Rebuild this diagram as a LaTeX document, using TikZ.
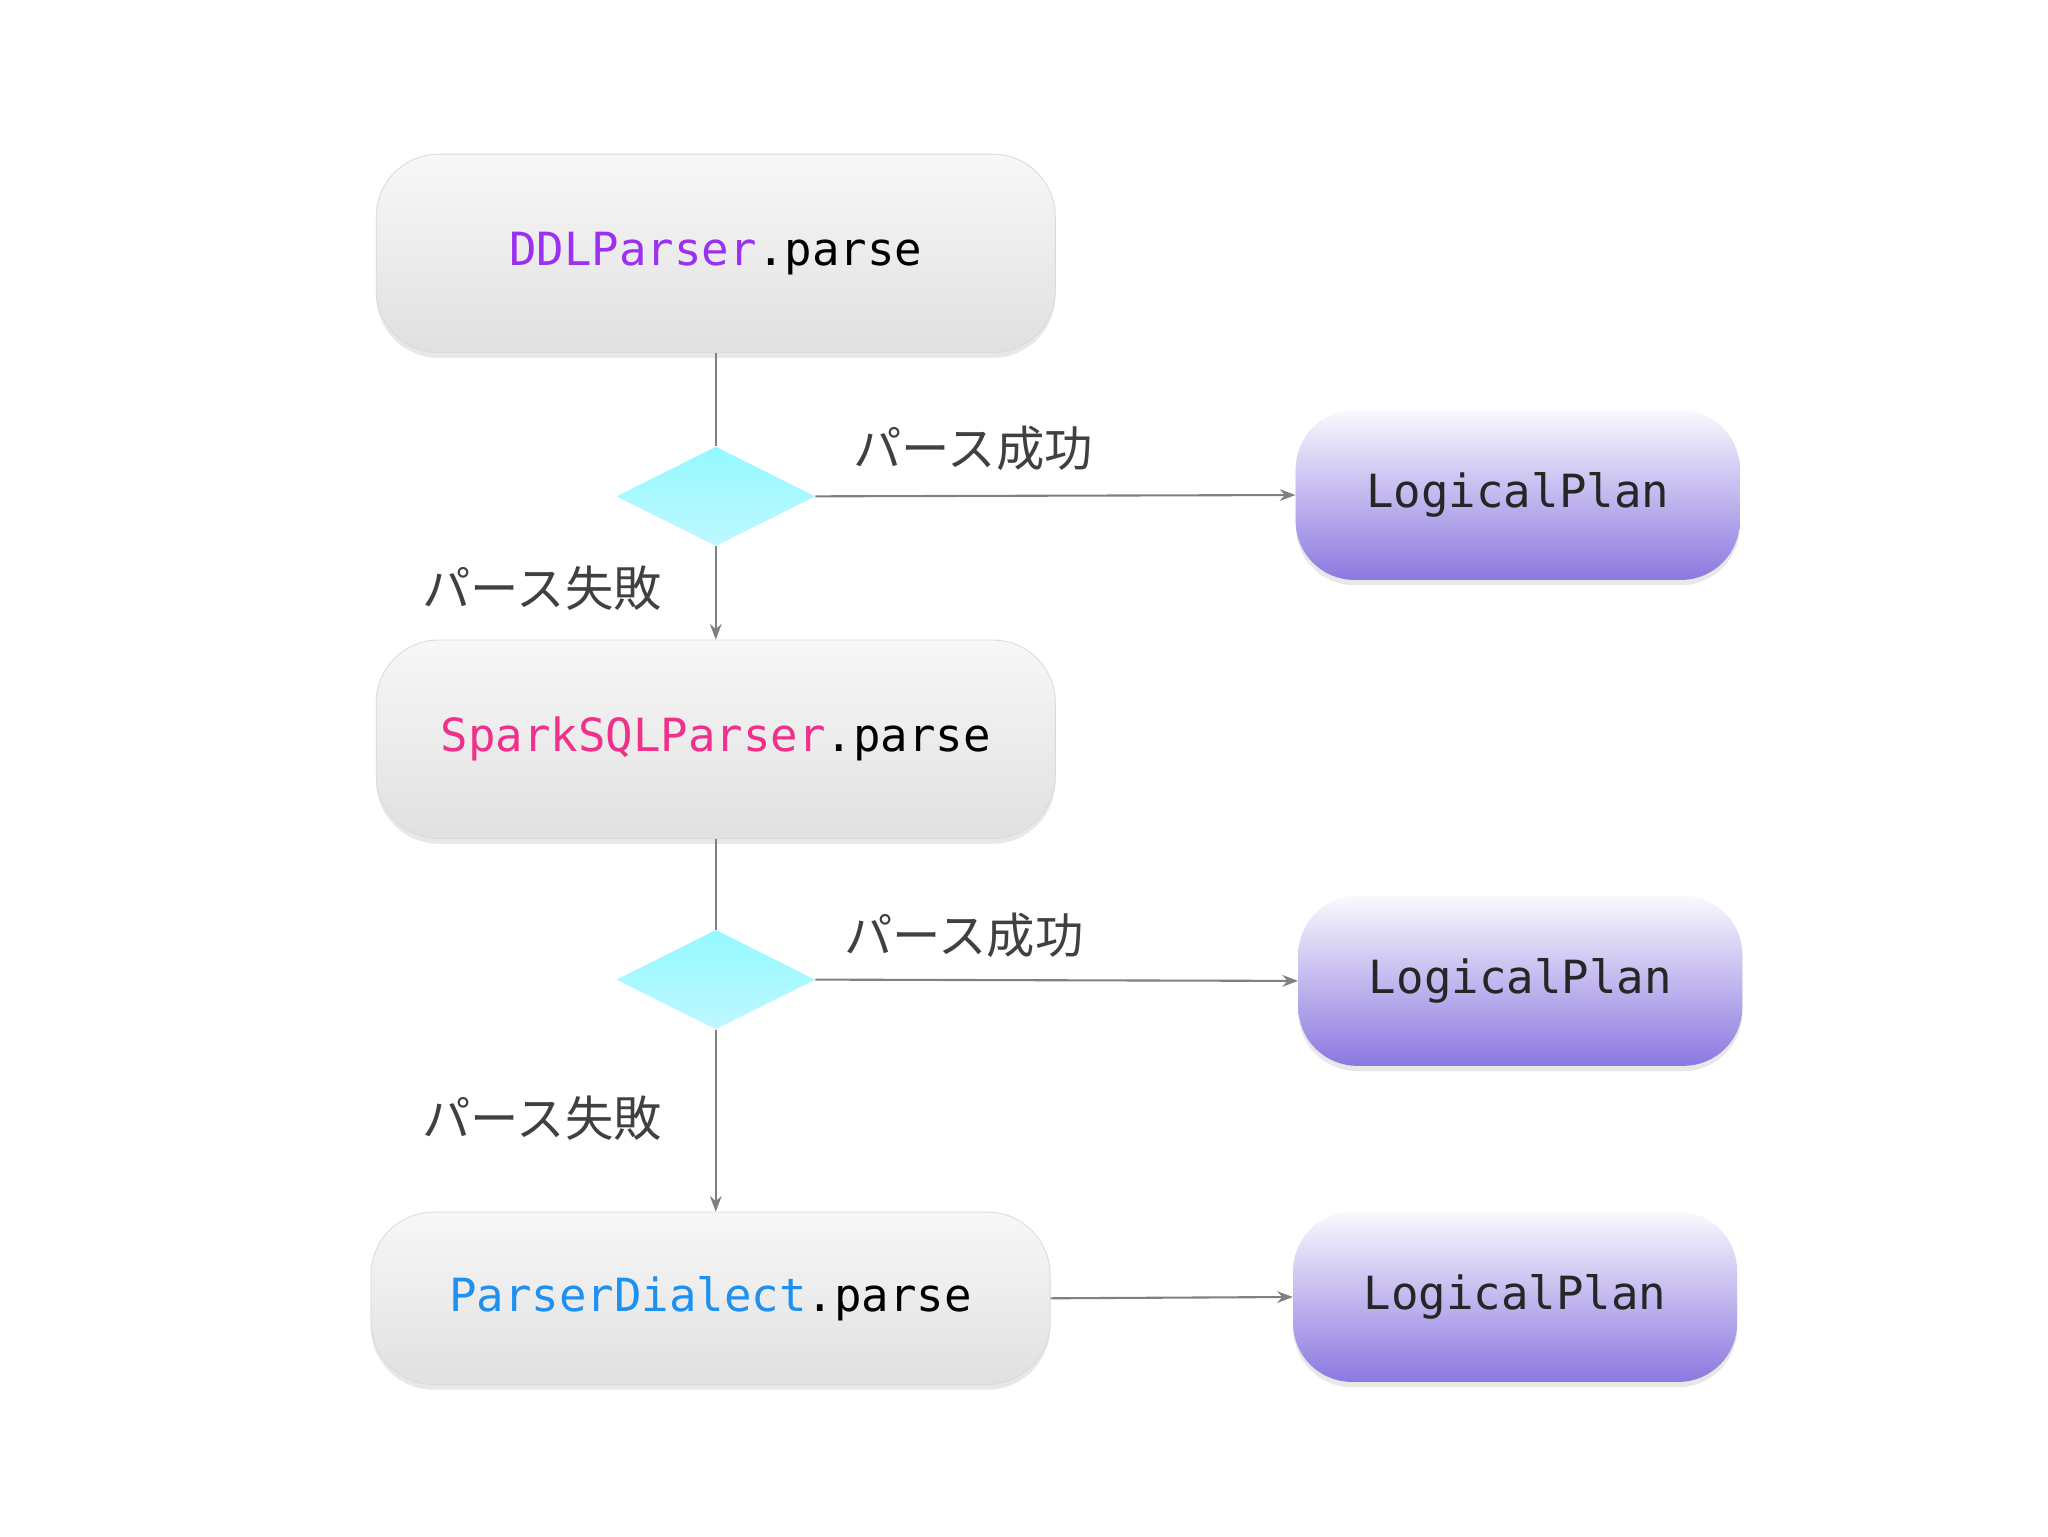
\documentclass[tikz,border=0pt]{standalone}
\usepackage{fontspec}
\setmonofont{DejaVu Sans Mono}
\newfontfamily\cjk{Noto Sans CJK JP}
\usetikzlibrary{shapes.geometric,shadows,arrows.meta}
\definecolor{lineg}{HTML}{808080}
\definecolor{cddl}{HTML}{9B30F0}
\definecolor{cspark}{HTML}{F0308A}
\definecolor{cdial}{HTML}{1E90F0}
\definecolor{lpb}{HTML}{8C78E0}
\tikzset{
 pbox/.style={rectangle,rounded corners=48pt,minimum width=520pt,minimum height=152pt,
   top color=white!97!black,bottom color=white!88!black,draw=white!85!black,line width=0.6pt,
   drop shadow={opacity=0.18,shadow xshift=0pt,shadow yshift=-4pt},
   font=\ttfamily\fontsize{35}{40}\selectfont},
 lp/.style={rectangle,rounded corners=45pt,minimum width=340pt,minimum height=130pt,
   top color=white!95!lpb,bottom color=lpb,draw=none,
   drop shadow={opacity=0.18,shadow xshift=0pt,shadow yshift=-4pt},
   font=\ttfamily\fontsize{35}{40}\selectfont, text=black!85},
 dia/.style={diamond,minimum width=152pt,minimum height=76pt,inner sep=0pt,aspect=2,
   top color=white!96!blue!60!cyan,bottom color=blue!12!cyan!25!white,draw=none},
 conn/.style={draw=lineg,line width=1.6pt},
 arr/.style={conn,-{Stealth[length=12pt,width=9pt]}},
 lab/.style={font=\cjk\fontsize{37}{40}\selectfont,text=black!75}
}
\begin{document}
\begin{tikzpicture}[x=1pt,y=-1pt]
\useasboundingbox (0,0) rectangle (1568,1176);
\fill[white] (0,0) rectangle (1568,1176);
\node[pbox] (b1) at (548,194) {\textcolor{cddl}{DDLParser}.parse};
\node[dia] (d1) at (548,380) {};
\node[lp] (l1) at (1162,379) {LogicalPlan};
\node[pbox] (b2) at (548,566) {\textcolor{cspark}{SparkSQLParser}.parse};
\node[dia] (d2) at (548,750) {};
\node[lp] (l2) at (1164,751) {LogicalPlan};
\node[pbox,minimum height=132pt] (b3) at (544,994) {\textcolor{cdial}{ParserDialect}.parse};
\node[lp] (l3) at (1160,993) {LogicalPlan};
\node[lab] (t1) at (745,343) {パース成功};
\node[lab] (t2) at (415,450) {パース失敗};
\node[lab] (t3) at (738,716) {パース成功};
\node[lab] (t4) at (415,856) {パース失敗};
\draw[conn] (b1.south) -- (d1.north);
\draw[arr] (d1.south) -- (b2.north);
\draw[arr] (d1.east) -- (l1.west);
\draw[conn] (b2.south) -- (d2.north);
\draw[arr] (d2.south) -- (d2.south |- b3.north);
\draw[arr] (d2.east) -- (l2.west);
\draw[arr] (b3.east) -- (l3.west);
\end{tikzpicture}
\end{document}
